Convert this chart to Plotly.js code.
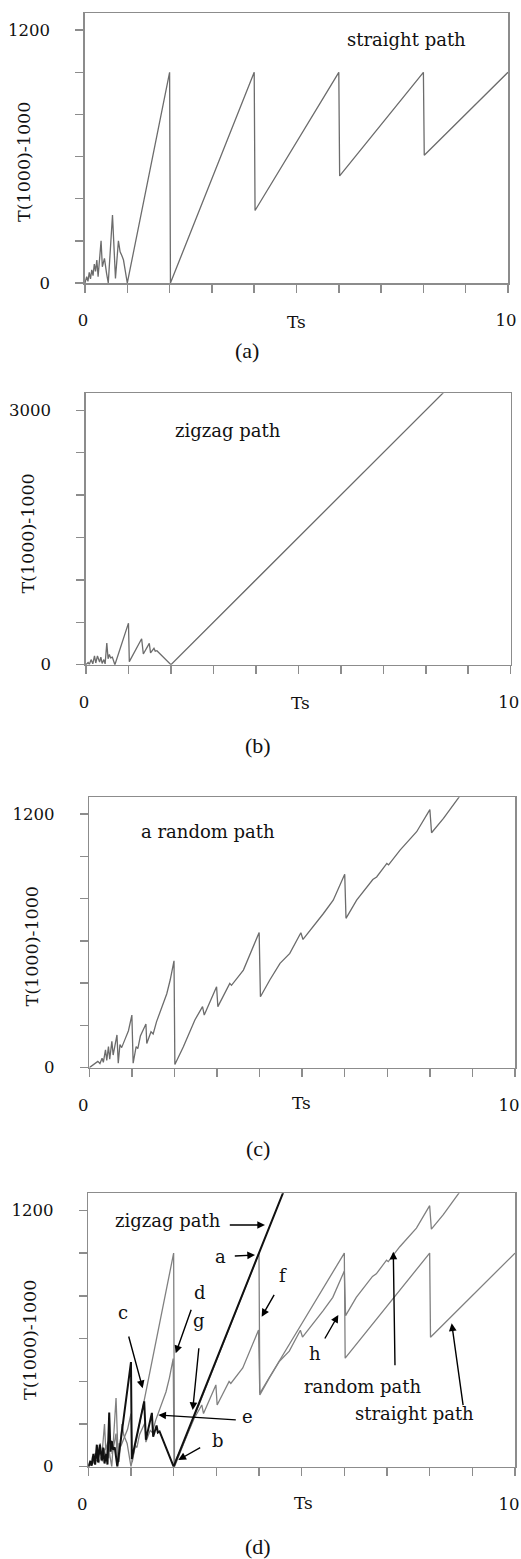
<!DOCTYPE html>
<html>
<head>
<meta charset="utf-8">
<script src="https://cdn.plot.ly/plotly-3.0.1.min.js"></script>
<style>
  html, body { margin: 0; padding: 0; background: #ffffff; }
  #chart { width: 521px; height: 1559px; }
</style>
</head>
<body>
<div id="chart"></div>
<script>
// ---------------- data ----------------
const tsStraight = [0, 0.04, 0.07, 0.1, 0.13, 0.16, 0.19, 0.22, 0.25, 0.28, 0.31, 0.35, 0.38, 0.41, 0.46, 0.51, 0.55, 0.65, 0.69, 0.72, 0.79, 0.83, 0.87, 0.91, 1.0, 2.0, 2.02, 4.0, 4.02, 6.0, 6.02, 8.0, 8.02, 10];
const tStraight  = [0, 30, 8, 50, 20, 62, 35, 90, 55, 109, 30, 110, 200, 77, 117, 46, 0, 322, 93, 22, 200, 148, 130, 109, 0, 1000, 0, 1000, 344, 1000, 508, 1000, 606, 1000];

const tsZigzag = [0, 0.05, 0.08, 0.12, 0.16, 0.2, 0.23, 0.27, 0.32, 0.35, 0.38, 0.42, 0.45, 0.49, 0.52, 0.55, 0.58, 0.62, 0.68, 1.0, 1.02, 1.31, 1.35, 1.49, 1.52, 1.6, 1.63, 1.67, 2.0, 10];
const tZigzag  = [0, 25, 5, 60, 10, 103, 20, 103, 30, 90, 15, 60, 10, 254, 70, 120, 80, 90, 0, 490, 36, 306, 126, 252, 140, 193, 160, 165, 0, 4000];

const tsRandom = [0, 0.1, 0.15, 0.2, 0.25, 0.3, 0.33, 0.38, 0.41, 0.45, 0.48, 0.53, 0.56, 0.65, 0.68, 0.72, 0.76, 0.82, 0.85, 0.92, 1.0, 1.03, 1.1, 1.14, 1.2, 1.33, 1.35, 1.45, 1.5, 1.58, 1.66, 1.74, 1.82, 1.9, 1.99, 2.01, 2.21, 2.48, 2.66, 2.7, 2.99, 3.02, 3.3, 3.34, 3.62, 3.99, 4.02, 4.24, 4.48, 4.71, 4.97, 5.02, 5.26, 5.5, 5.73, 6.0, 6.03, 6.28, 6.66, 6.75, 6.99, 7.03, 7.3, 7.69, 8.0, 8.04, 8.32, 8.7];
const tRandom  = [0, 15, 25, 30, 20, 45, 25, 85, 35, 100, 40, 125, 60, 155, 21, 110, 95, 120, 140, 175, 249, 21, 100, 90, 150, 207, 115, 170, 160, 218, 265, 312, 350, 415, 506, 15, 99, 226, 289, 249, 383, 289, 399, 390, 462, 640, 336, 415, 494, 541, 639, 607, 667, 730, 793, 916, 707, 793, 891, 903, 967, 960, 1030, 1117, 1222, 1112, 1180, 1285];

const xTickVals = [0, 1, 2, 3, 4, 5, 6, 7, 8, 9, 10];
const xTickText = ['0', '', '', '', '', '', '', '', '', '', '10'];
const yTickVals1200 = [0, 200, 400, 600, 800, 1000, 1200];
const yTickText1200 = ['0', '', '', '', '', '', '1200'];
const yTickVals3000 = [0, 500, 1000, 1500, 2000, 2500, 3000];
const yTickText3000 = ['0', '', '', '', '', '', '3000'];

const panelLabels = ['straight path', 'zigzag path', 'a random path'];
const captions = ['(a)', '(b)', '(c)', '(d)'];

// ---------------- layout helpers ----------------
const W = 521, H = 1559;
const fx = px => px / W;
const fy = py => 1 - py / H;

const SERIF = 'DejaVu Serif, Liberation Serif, serif';
const frameColor = '#8c8c8c';
const lineGray = '#6c6c6c';

function xAxis(left, right, anchor, shift) {
  return {
    domain: [fx(left), fx(right)], anchor: anchor, range: [0, 10],
    tickmode: 'array', tickvals: xTickVals, ticktext: xTickText,
    ticks: 'outside', ticklen: 8, tickwidth: 1.5, tickcolor: frameColor,
    ticklabelstandoff: 14, ticklabelshift: shift || 0, ticklabeloverflow: 'allow',
    showline: true, mirror: true, linecolor: frameColor, linewidth: 1.6,
    showgrid: false, zeroline: false, fixedrange: true,
    tickfont: { family: SERIF, size: 16.5, color: '#111' }
  };
}
function yAxis(top, bottom, anchor, maxv, vals, text) {
  return {
    domain: [fy(bottom), fy(top)], anchor: anchor, range: [0, maxv],
    tickmode: 'array', tickvals: vals, ticktext: text,
    ticks: 'outside', ticklen: 8, tickwidth: 1.5, tickcolor: frameColor,
    ticklabelstandoff: 22, ticklabeloverflow: 'allow',
    showline: true, mirror: true, linecolor: frameColor, linewidth: 1.6,
    showgrid: false, zeroline: false, fixedrange: true,
    tickfont: { family: SERIF, size: 16.5, color: '#111' }
  };
}

// ---------------- traces ----------------
const traces = [
  { x: tsStraight, y: tStraight, xaxis: 'x', yaxis: 'y', mode: 'lines',
    line: { color: lineGray, width: 1.3 }, name: 'straight path' },
  { x: tsZigzag, y: tZigzag, xaxis: 'x2', yaxis: 'y2', mode: 'lines',
    line: { color: lineGray, width: 1.3 }, name: 'zigzag path' },
  { x: tsRandom, y: tRandom, xaxis: 'x3', yaxis: 'y3', mode: 'lines',
    line: { color: lineGray, width: 1.3 }, name: 'a random path' },
  { x: tsStraight, y: tStraight, xaxis: 'x4', yaxis: 'y4', mode: 'lines',
    line: { color: '#808080', width: 1.3 }, name: 'straight path' },
  { x: tsRandom, y: tRandom, xaxis: 'x4', yaxis: 'y4', mode: 'lines',
    line: { color: '#808080', width: 1.3 }, name: 'random path' },
  { x: tsZigzag, y: tZigzag, xaxis: 'x4', yaxis: 'y4', mode: 'lines',
    line: { color: '#111111', width: 2 }, name: 'zigzag path' }
];

// ---------------- annotations ----------------
const ann = [];
function txt(s, px, py, size, family, extra) {
  ann.push(Object.assign({
    text: s, xref: 'paper', yref: 'paper', x: fx(px), y: fy(py),
    xanchor: 'center', yanchor: 'middle', showarrow: false,
    font: { family: family || SERIF, size: size || 18, color: '#111' }
  }, extra || {}));
}
function arrow(tailX, tailY, tipX, tipY) {
  ann.push({
    text: '', xref: 'paper', yref: 'paper', x: fx(tipX), y: fy(tipY),
    ax: tailX - tipX, ay: tailY - tipY, axref: 'pixel', ayref: 'pixel',
    showarrow: true, arrowhead: 2, arrowsize: 1.1, arrowwidth: 1.4,
    arrowcolor: '#000', standoff: 0, startstandoff: 0
  });
}

// panel texts
txt(panelLabels[0], 406.7, 39.3, 18);
txt(panelLabels[1], 228.2, 430.7, 18);
txt(panelLabels[2], 208, 831.7, 18);

// axis titles
const axisTitleX = 'Ts', axisTitleY = 'T(1000)-1000';
[[296.7, 322], [300, 703], [301.7, 1103], [303.3, 1503]].forEach(p => txt(axisTitleX, p[0], p[1], 17));
[[23.3, 161.7], [28.3, 533.3], [31.7, 946.7], [30, 1340]].forEach(p =>
  txt(axisTitleY, p[0], p[1], 17.5, SERIF, { textangle: -90 }));

// captions
[[246.7, 350], [258.3, 745], [258.3, 1148.3], [258.3, 1546]].forEach((p, i) =>
  txt(captions[i], p[0], p[1], 22, 'Liberation Serif, serif'));

// panel (d) labels and arrows
txt('zigzag path', 168.3, 1220, 18);   arrow(228.3, 1225, 265, 1225);
txt('a', 220, 1256, 18);               arrow(233.3, 1256, 255, 1255);
txt('f', 282.7, 1275, 18);             arrow(275, 1293.3, 261.7, 1316.7);
txt('d', 200, 1292.7, 18);             arrow(191.7, 1308.3, 175.7, 1353.3);
txt('g', 199.3, 1320, 18);             arrow(199, 1346.7, 192.7, 1410);
txt('c', 123.3, 1312.7, 18);           arrow(128.3, 1335, 142.7, 1388.3);
txt('e', 247.3, 1416.7, 18);           arrow(237.3, 1420, 158.3, 1415);
txt('b', 218.3, 1440.7, 18);           arrow(201.7, 1446.7, 178.3, 1460);
txt('h', 315, 1353.3, 18);             arrow(324, 1340, 338.3, 1315);
txt('random path', 363, 1386.7, 18);   arrow(395, 1366.7, 393.3, 1251.7);
txt('straight path', 414.2, 1413.3, 18); arrow(463.3, 1406.7, 451.7, 1323.3);

const layout = {
  width: W, height: H, margin: { l: 0, r: 0, t: 0, b: 0 },
  paper_bgcolor: '#ffffff', plot_bgcolor: '#ffffff', showlegend: false,
  xaxis:  xAxis(85, 508, 'y', -2),
  yaxis:  yAxis(13.3, 283, 'x', 1280, yTickVals1200, yTickText1200),
  xaxis2: xAxis(86, 510.7, 'y2', -2),
  yaxis2: yAxis(393.3, 664.7, 'x2', 3200, yTickVals3000, yTickText3000),
  xaxis3: xAxis(89.3, 515, 'y3', -6),
  yaxis3: yAxis(797.3, 1067.7, 'x3', 1280, yTickVals1200, yTickText1200),
  xaxis4: xAxis(88.3, 515, 'y4', -6),
  yaxis4: yAxis(1193.3, 1466.7, 'x4', 1280, yTickVals1200, yTickText1200),
  annotations: ann
};

Plotly.newPlot('chart', traces, layout, { staticPlot: true, displayModeBar: false });
</script>
</body>
</html>
